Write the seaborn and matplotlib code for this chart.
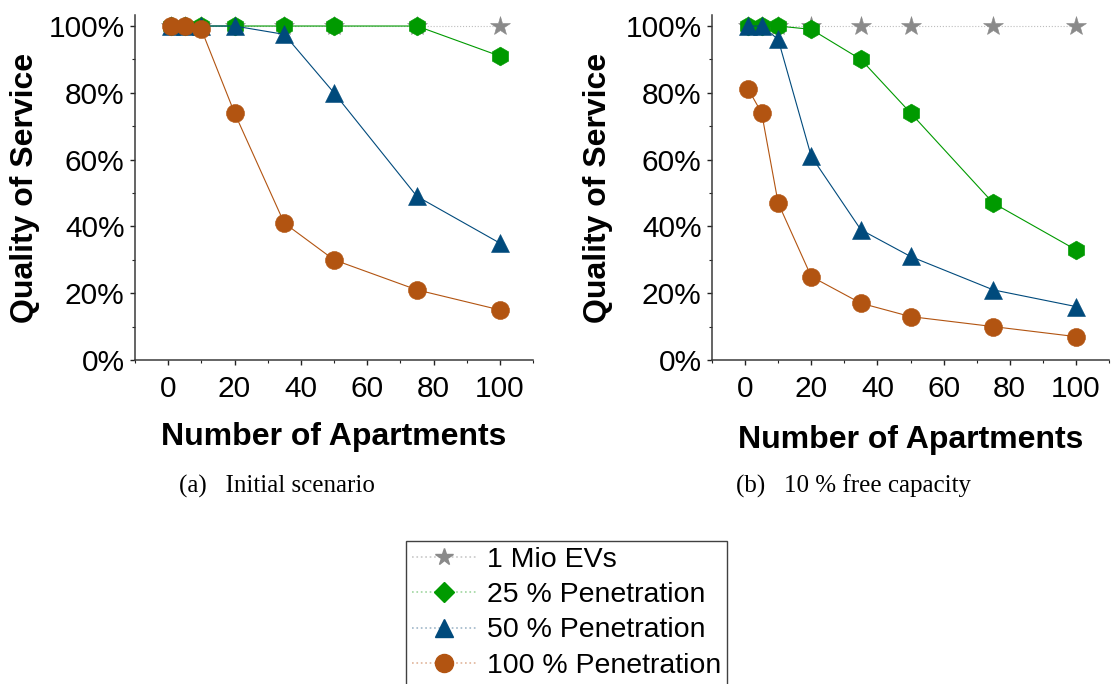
import matplotlib
matplotlib.use("Agg")
import matplotlib.pyplot as plt
from matplotlib.lines import Line2D
from matplotlib.ticker import MultipleLocator, FuncFormatter
import pandas as pd
import seaborn as sns

# Number of apartments per feeder
apartments = [1, 5, 10, 20, 35, 50, 75, 100]

series_names = ["1 Mio EVs", "25 % Penetration", "50 % Penetration", "100 % Penetration"]

# (a) Initial scenario - quality of service in %
initial_mio = [100, 100, 100, 100, 100, 100, 100, 100]
initial_25 = [100, 100, 100, 100, 100, 100, 100, 91]
initial_50 = [100, 100, 100, 100, 97.5, 80, 49, 35]
initial_100 = [100, 100, 99, 74, 41, 30, 21, 15]

# (b) 10 % free capacity - quality of service in %
free_mio = [100, 100, 100, 100, 100, 100, 100, 100]
free_25 = [100, 100, 100, 99, 90, 74, 47, 33]
free_50 = [100, 100, 96, 61, 39, 31, 21, 16]
free_100 = [81, 74, 47, 25, 17, 13, 10, 7]

panel_titles = ["(a)   Initial scenario", "(b)   10 % free capacity"]

colors = {
    "1 Mio EVs": "#8a8a8a",
    "25 % Penetration": "#009a00",
    "50 % Penetration": "#004a7c",
    "100 % Penetration": "#b25411",
}
legend_line_colors = {
    "1 Mio EVs": "#c8c8c8",
    "25 % Penetration": "#9fd69f",
    "50 % Penetration": "#9fb6c8",
    "100 % Penetration": "#e0b49a",
}
plot_markers = {
    "1 Mio EVs": "*",
    "25 % Penetration": "h",
    "50 % Penetration": "^",
    "100 % Penetration": "o",
}
legend_markers = {
    "1 Mio EVs": "*",
    "25 % Penetration": "D",
    "50 % Penetration": "^",
    "100 % Penetration": "o",
}
marker_sizes = {
    "1 Mio EVs": 14.5,
    "25 % Penetration": 13.5,
    "50 % Penetration": 12.5,
    "100 % Penetration": 13,
}


def long_frame(values):
    rows = []
    for name, ys in zip(series_names, values):
        for x, y in zip(apartments, ys):
            rows.append({"apartments": x, "qos": y, "series": name})
    return pd.DataFrame(rows)


frames = [
    long_frame([initial_mio, initial_25, initial_50, initial_100]),
    long_frame([free_mio, free_25, free_50, free_100]),
]

sns.set_theme(style="white")
plt.rcParams["font.family"] = ["Liberation Sans", "DejaVu Sans"]
plt.rcParams["text.color"] = "black"
plt.rcParams["axes.labelcolor"] = "black"
plt.rcParams["xtick.color"] = "black"
plt.rcParams["ytick.color"] = "black"

fig = plt.figure(figsize=(11.11, 6.84), dpi=100)
ax_boxes = [
    [135 / 1111, 1 - 360 / 684, 398 / 1111, 345 / 684],
    [712 / 1111, 1 - 360 / 684, 397 / 1111, 345 / 684],
]
caption_x = [277 / 1111, 853 / 1111]

for i, (df, box) in enumerate(zip(frames, ax_boxes)):
    ax = fig.add_axes(box)
    for name in series_names:
        sub = df[df["series"] == name]
        sns.lineplot(
            data=sub, x="apartments", y="qos", ax=ax,
            color=colors[name] if name != "1 Mio EVs" else "#bdbdbd",
            linewidth=0.8,
            linestyle=":" if name == "1 Mio EVs" else "-",
            marker=plot_markers[name],
            markersize=marker_sizes[name],
            markerfacecolor=colors[name],
            markeredgecolor=colors[name],
            markeredgewidth=0.4,
            legend=False,
        )
    ax.set_xlim(-10, 110)
    ax.set_ylim(0, 103.3)
    ax.xaxis.set_major_locator(MultipleLocator(20))
    ax.xaxis.set_minor_locator(MultipleLocator(10))
    ax.yaxis.set_major_locator(MultipleLocator(20))
    ax.yaxis.set_minor_locator(MultipleLocator(10))
    ax.yaxis.set_major_formatter(FuncFormatter(lambda v, p: f"{v:.0f}%"))
    for side in ("top", "right"):
        ax.spines[side].set_visible(False)
    for side in ("left", "bottom"):
        ax.spines[side].set_color("#3a3a3a")
        ax.spines[side].set_linewidth(1.1)
    ax.tick_params(axis="both", which="major", direction="out", length=3.5,
                   width=1, color="#222222", labelsize=21.5, pad=4,
                   left=True, bottom=True)
    ax.tick_params(axis="both", which="minor", direction="out", length=2,
                   width=0.8, color="#222222", left=True, bottom=True)
    ax.tick_params(axis="x", which="major", pad=7)
    ax.set_xlabel("Number of Apartments", fontsize=23, fontweight="bold",
                  labelpad=14 if i == 0 else 16)
    ax.set_ylabel("Quality of Service", fontsize=23, fontweight="bold",
                  labelpad=6 if i == 0 else 9)
    ax.grid(False)
    fig.text(caption_x[i], 1 - 486 / 684, panel_titles[i], ha="center",
             va="center", fontsize=18, family=["Liberation Serif", "DejaVu Serif"])

handles = [
    Line2D([0], [0], color=legend_line_colors[name], linestyle=":", linewidth=1.2,
           marker=legend_markers[name],
           markersize=13 if legend_markers[name] != "D" else 10,
           markerfacecolor=colors[name], markeredgecolor=colors[name])
    for name in series_names
]
leg = fig.legend(
    handles, series_names, loc="upper left",
    bbox_to_anchor=(406 / 1111, 1 - 541 / 684),
    fontsize=20.5, frameon=True, fancybox=False, shadow=False,
    borderpad=0.2, handlelength=2.3, handletextpad=0.35,
    labelspacing=0.33, borderaxespad=0.0,
)
leg.get_frame().set_edgecolor("#111111")
leg.get_frame().set_linewidth(1.0)

fig.savefig("out.png", dpi=100)
